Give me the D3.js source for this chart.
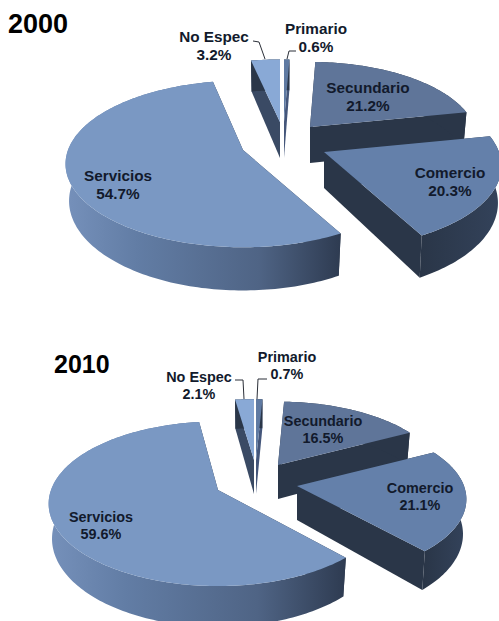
<!DOCTYPE html>
<html>
<head>
<meta charset="utf-8">
<style>
html,body{margin:0;padding:0;background:#fff;}
svg{display:block;}
text{font-family:"Liberation Sans",Arial,sans-serif;font-weight:700;}
</style>
<script src="https://cdn.jsdelivr.net/npm/d3@7"></script>
</head>
<body>
<svg id="chart" width="499" height="621"></svg>
<script>
// Sector shares per census year, clockwise from twelve o'clock
const sectors = ["Primario", "Secundario", "Comercio", "Servicios", "No Espec"];
const values2000 = [0.6, 21.2, 20.3, 54.7, 3.2];
const values2010 = [0.7, 16.5, 21.1, 59.6, 2.1];

// Fill of each sector's top face
const topColors = ["#5f7aa2", "#5f7599", "#6480aa", "#7a98c3", "#89a9d6"];

// Exploded placement of each wedge: apex, radii and thickness
const layout2000 = {
  title: {text: "2000", x: 8, y: 33, size: 27},
  labelSize: 15.3, lineGap: 18,
  depth: 36,
  wedges: [
    {cx: 284, cy: 122, rx: 169, ry: 73},
    {cx: 310, cy: 127, rx: 165, ry: 76},
    {cx: 324, cy: 152, rx: 175, ry: 81},
    {cx: 243, cy: 150, rx: 175, ry: 81},
    {cx: 280, cy: 122, rx: 169, ry: 73}
  ],
  labels: [
    {x: 316, y: 34}, {x: 368, y: 93}, {x: 450, y: 178}, {x: 118, y: 181}, {x: 214, y: 42}
  ],
  leaders: {
    "Primario": [[296, 51], [289, 51], [287, 59]],
    "No Espec": [[253, 41], [259, 42], [265, 59]]
  }
};
const layout2010 = {
  title: {text: "2010", x: 54, y: 373, size: 25},
  labelSize: 14.4, lineGap: 17,
  depth: 34,
  wedges: [
    {cx: 256, cy: 460, rx: 172, ry: 71},
    {cx: 278, cy: 465, rx: 161, ry: 74},
    {cx: 297, cy: 486, rx: 167, ry: 77},
    {cx: 218, cy: 490, rx: 167, ry: 80},
    {cx: 254, cy: 460, rx: 168, ry: 71}
  ],
  labels: [
    {x: 287, y: 362}, {x: 323, y: 426}, {x: 420, y: 493}, {x: 101, y: 522}, {x: 199, y: 382}
  ],
  leaders: {
    "Primario": [[267, 379], [258, 379], [257, 399]],
    "No Espec": [[235, 380], [243, 380], [244, 399]]
  }
};

const DARK = "#2a3648";
const LEAN = 0.167;          // strength of the foreshortening from far to near edge
const BASE_SHRINK = 0.98;    // lower rim is slightly narrower than the upper rim

const svg = d3.select("#chart");
const defs = svg.append("defs");
const pathLine = d3.line();

// Angle (radians, clockwise from north) to a point on the upper rim of a wedge
function rim(w, a) {
  const k = 1 + LEAN * Math.cos(a);
  return [w.cx + w.rx * Math.sin(a) / k, w.cy - w.ry * Math.cos(a) / k];
}
// Same point, dropped to the lower rim
function lower(w, a, depth) {
  const k = 1 + LEAN * Math.cos(a);
  return [w.cx + BASE_SHRINK * w.rx * Math.sin(a) / k, w.cy - w.ry * Math.cos(a) / k + depth / k];
}
function arcAngles(a0, a1) {
  const n = Math.max(2, Math.ceil((a1 - a0) / 0.02));
  return d3.range(n + 1).map(i => a0 + (a1 - a0) * i / n);
}

let gradientId = 0;
function wallGradient(x0, x1, stops) {
  const id = "wall" + (gradientId++);
  const g = defs.append("linearGradient").attr("id", id)
    .attr("gradientUnits", "userSpaceOnUse")
    .attr("x1", x0).attr("x2", x1).attr("y1", 0).attr("y2", 0);
  stops.forEach(s => g.append("stop").attr("offset", s[0]).attr("stop-color", s[1]));
  return "url(#" + id + ")";
}

function drawPie(values, cfg) {
  const slices = d3.pie().sort(null).value(d => d)(values);
  const g = svg.append("g");
  // Painting order: large back pieces first, the comercio wedge overlaps secundario
  [3, 1, 4, 0, 2].forEach(i => {
    const s = slices[i], w = cfg.wedges[i], d = cfg.depth;
    const angles = arcAngles(s.startAngle, s.endAngle);
    const apex = [w.cx, w.cy], apexLow = [w.cx, w.cy + d];

    // Cut faces
    const faceColor = i === 4 ? "#3a4a64" : i === 0 ? "#44567a" : DARK;
    [s.startAngle, s.endAngle].forEach(a => {
      g.append("path")
        .attr("d", pathLine([apex, rim(w, a), lower(w, a, d), apexLow]) + "Z")
        .attr("fill", faceColor);
    });

    // Curved outer wall
    const upper = angles.map(a => rim(w, a));
    const low = angles.map(a => lower(w, a, d)).reverse();
    const left = w.cx - w.rx, right = w.cx + w.rx;
    const wallFill = i === 3
      ? wallGradient(left, rim(w, s.startAngle)[0], [[0, "#7590ba"], [0.25, "#627da5"], [0.7, "#4f6485"], [1, "#2e3b51"]])
      : i === 2
        ? wallGradient(rim(w, s.endAngle)[0], right, [[0, "#2a3648"], [1, "#33425a"]])
        : DARK;
    g.append("path").attr("d", pathLine(upper.concat(low)) + "Z").attr("fill", wallFill);

    // Top face
    g.append("path")
      .attr("d", pathLine([apex].concat(upper)) + "Z")
      .attr("fill", topColors[i]);
  });

  // Labels
  slices.forEach((s, i) => {
    const p = cfg.labels[i];
    const t = g.append("text")
      .attr("text-anchor", "middle")
      .attr("font-size", cfg.labelSize)
      .attr("fill", "#121a2c");
    t.append("tspan").attr("x", p.x).attr("y", p.y).text(sectors[i]);
    t.append("tspan").attr("x", p.x).attr("y", p.y + cfg.lineGap).text(values[i].toFixed(1) + "%");
  });

  // Leader lines for the two thin wedges
  Object.values(cfg.leaders).forEach(pts => {
    g.append("path").attr("d", pathLine(pts))
      .attr("fill", "none").attr("stroke", "#2b2f38").attr("stroke-width", 1);
  });

  g.append("text")
    .attr("x", cfg.title.x).attr("y", cfg.title.y)
    .attr("font-size", cfg.title.size)
    .attr("fill", "#000")
    .text(cfg.title.text);
}

drawPie(values2000, layout2000);
drawPie(values2010, layout2010);
</script>
</body>
</html>
